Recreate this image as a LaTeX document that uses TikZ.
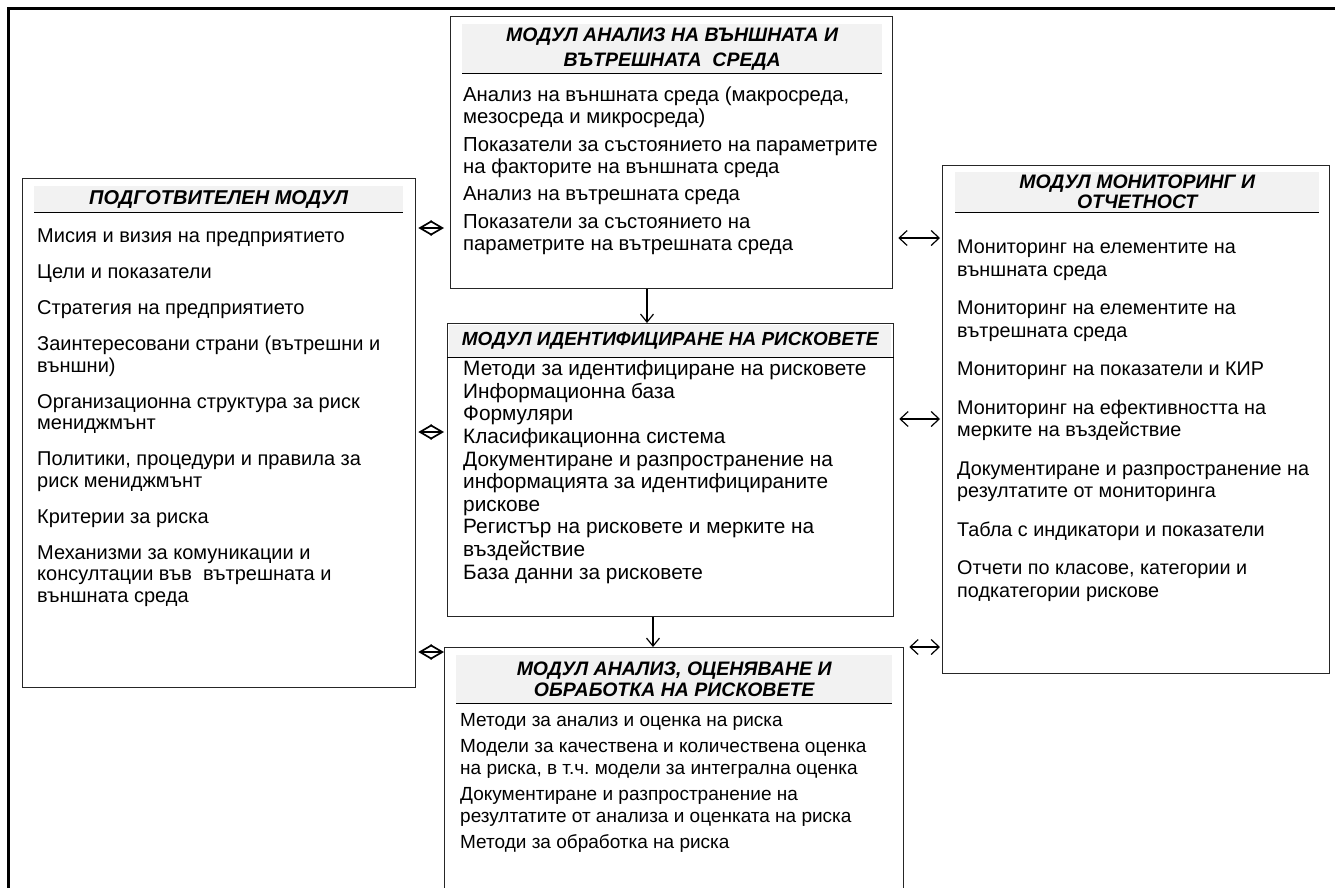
\documentclass[tikz,border=0pt]{standalone}
\usepackage{fontspec}
\setmainfont{Liberation Sans}
\usetikzlibrary{positioning, arrows.meta}
\definecolor{bandGray}{RGB}{242,242,242}
\frenchspacing

\tikzset{
    modbox/.style={draw=black!85, line width=1.3pt, anchor=north west, inner sep=0pt},
    hdband/.style={fill=bandGray, anchor=north west, inner sep=0pt, align=center,
        font=\bfseries\itshape\fontsize{19.5}{20}\selectfont},
    items/.style={anchor=base west, inner sep=0pt, align=left},
    dia/.style={line width=1.7pt, {Straight Barb[length=12pt,width=14pt]}-{Straight Barb[length=12pt,width=14pt]}},
    lr/.style={line width=1.2pt, {Straight Barb[length=8pt,width=15pt]}-{Straight Barb[length=8pt,width=15pt]}},
    dn/.style={line width=1.2pt, -{Straight Barb[length=8pt,width=13pt]}}
}

\begin{document}
\begin{tikzpicture}[x=1pt, y=-1pt]
    \clip (0,0) rectangle (1335,887);
    % рамка
    \draw[line width=3pt] (8,8) rectangle (1345,900);

    % модули
    \node[modbox, minimum width=393pt, minimum height=509pt] (prep) at (22,178) {};
    \node[modbox, minimum width=442pt, minimum height=272pt] (ext) at (450,16) {};
    \node[modbox, minimum width=446pt, minimum height=293pt] (ident) at (447,323) {};
    \node[modbox, minimum width=459pt, minimum height=280pt] (risk) at (444,647) {};
    \node[modbox, minimum width=387pt, minimum height=508pt] (mon) at (942,165) {};

    % заглавия
    \node[hdband, minimum width=369pt, minimum height=26pt, font=\bfseries\itshape\fontsize{20}{20}\selectfont] (prephd) at (34,186) {ПОДГОТВИТЕЛЕН МОДУЛ};
    \node[hdband, minimum width=420pt, minimum height=49pt, font=\bfseries\itshape\fontsize{19.5}{25}\selectfont] (exthd) at (462,24)
        {МОДУЛ АНАЛИЗ НА ВЪНШНАТА И\\ВЪТРЕШНАТА\ \ СРЕДА};
    \node[hdband, minimum width=442pt, minimum height=32pt, font=\bfseries\itshape\fontsize{19}{20}\selectfont] (identhd) at (449,325) {МОДУЛ ИДЕНТИФИЦИРАНЕ НА РИСКОВЕТЕ};
    \node[hdband, minimum width=436pt, minimum height=48pt, font=\bfseries\itshape\fontsize{19.5}{21}\selectfont] (riskhd) at (456,655)
        {МОДУЛ АНАЛИЗ, ОЦЕНЯВАНЕ И\\ОБРАБОТКА НА РИСКОВЕТЕ};
    \node[hdband, minimum width=364pt, minimum height=40pt] (monhd) at (955,172)
        {МОДУЛ МОНИТОРИНГ И\\ОТЧЕТНОСТ};
    \foreach \h in {prephd, exthd, riskhd, monhd}
        \draw[line width=1.2pt] (\h.south west) -- (\h.south east);
    \draw[line width=1.2pt] (ident.west |- identhd.south) -- (ident.east |- identhd.south);

    % съдържание (котва: последният ред)
    \node[items, font=\fontsize{20}{21.5}\selectfont] (prepit) at (37,602) {%
        Мисия и визия на предприятието\\[14.5pt]
        Цели и показатели\\[14.5pt]
        Стратегия на предприятието\\[14.5pt]
        Заинтересовани страни (вътрешни и\\външни)\\[14.5pt]
        Организационна структура за риск\\мениджмънт\\[14.5pt]
        Политики, процедури и правила за\\риск мениджмънт\\[14.5pt]
        Критерии за риска\\[14.5pt]
        Механизми за комуникации и\\консултации във\ \ вътрешната и\\външната среда};
    \node[items, font=\fontsize{20.3}{22}\selectfont] (extit) at (463,250) {%
        Анализ на външната среда (макросреда,\\мезосреда и микросреда)\\[5.5pt]
        Показатели за състоянието на параметрите\\на факторите на външната среда\\[5.5pt]
        Анализ на вътрешната среда\\[5.5pt]
        Показатели за състоянието на\\параметрите на вътрешната среда};
    \node[items, font=\fontsize{20.8}{22.6}\selectfont] (identit) at (463,579) {%
        Методи за идентифициране на рисковете\\
        Информационна база\\
        Формуляри\\
        Класификационна система\\
        Документиране и разпространение на\\информацията за идентифицираните\\рискове\\
        Регистър на рисковете и мерките на\\въздействие\\
        База данни за рисковете};
    \node[items, font=\fontsize{19.8}{22.5}\selectfont] (monit) at (957,597) {%
        Мониторинг на елементите на\\външната среда\\[16pt]
        Мониторинг на елементите на\\вътрешната среда\\[16pt]
        Мониторинг на показатели и КИР\\[16pt]
        Мониторинг на ефективността на\\мерките на въздействие\\[16pt]
        Документиране и разпространение на\\резултатите от мониторинга\\[16pt]
        Табла с индикатори и показатели\\[16pt]
        Отчети по класове, категории и\\подкатегории рискове};
    \node[items, font=\fontsize{19}{22.5}\selectfont] (riskit) at (460,848) {%
        Методи за анализ и оценка на риска\\[3pt]
        Модели за качествена и количествена оценка\\на риска, в т.ч. модели за интегрална оценка\\[3pt]
        Документиране и разпространение на\\резултатите от анализа и оценката на риска\\[3pt]
        Методи за обработка на риска};

    % връзки
    \draw[dn] (ext.south -| 647,0) -- (ident.north -| 647,0);
    \draw[dn] (ident.south -| 653,0) -- (risk.north -| 653,0);
    \foreach \m/\s/\y in {ext/6/228, ident/3/432, risk/0/652}
        \draw[dia] ([xshift=2pt]prep.east |- 0,\y) -- ([xshift=-\s pt]\m.west |- 0,\y);
    \foreach \m/\y in {ext/238, ident/419, risk/647}
        \draw[lr] ([xshift=5pt]\m.east |- 0,\y) -- ([xshift=-2pt]mon.west |- 0,\y);
\end{tikzpicture}
\end{document}
